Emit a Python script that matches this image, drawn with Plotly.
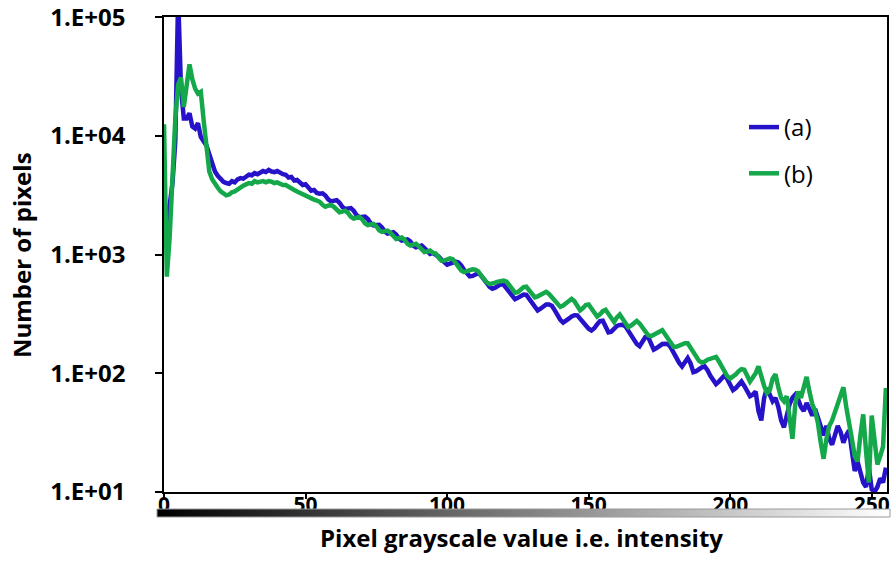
import plotly.graph_objects as go

# ---- data ----
intensity = list(range(256))

counts_a = [
    1700, 1900, 2600, 4000, 9000, 150000, 25000, 14000, 14000, 15500, 12000, 11500, 12800, 9800, 9000, 8300,
    7000, 5800, 5000, 4600, 4300, 4100, 4000, 3950, 4150, 4050, 4300, 4400, 4350, 4550, 4700, 4650,
    4850, 4750, 4950, 5050, 4950, 5150, 5000, 4950, 5050, 4850, 4750, 4700, 4450, 4500, 4200, 4250,
    4000, 3850, 3900, 3600, 3450, 3500, 3300, 3250, 3280, 3140, 2910, 2800, 2850, 2870, 2730, 2520,
    2420, 2440, 2460, 2340, 2150, 2060, 2080, 2090, 1990, 1830, 1760, 1770, 1780, 1690, 1560, 1500,
    1520, 1540, 1470, 1360, 1310, 1320, 1340, 1290, 1190, 1150, 1170, 1190, 1130, 1050, 1010, 1030,
    1000, 960, 905, 850, 820, 838, 864, 872, 855, 810, 742, 690, 655, 660, 680, 695,
    664, 625, 575, 533, 515, 525, 551, 563, 554, 515, 472, 437, 420, 431, 450, 460,
    457, 421, 384, 357, 337, 349, 367, 380, 380, 370, 340, 308, 281, 267, 275, 288,
    301, 308, 307, 289, 269, 250, 237, 229, 239, 258, 275, 277, 249, 221, 224, 240,
    250, 255, 256, 248, 227, 208, 190, 176, 169, 183, 201, 202, 179, 158, 163, 170,
    176, 177, 176, 165, 149, 133, 122, 114, 123, 134, 121, 102, 104, 109, 112, 114,
    106, 95, 86, 81, 85, 91, 96, 89, 79, 72, 75, 81, 85, 78, 69, 64,
    66, 70, 48, 40, 62, 75, 66, 58, 62, 52, 40, 35, 44, 55, 62, 66,
    60, 52, 48, 56, 50, 44, 50, 42, 34, 30, 36, 28, 25, 30, 36, 32,
    26, 30, 33, 22, 15, 18, 14, 12, 11, 16, 10.5, 10, 11, 13, 12, 16,
]

counts_b = [
    12500, 650, 1400, 5000, 14000, 27000, 31000, 17500, 28000, 40000, 30000, 25000, 22700, 23500, 13500, 7500,
    5000, 4300, 3900, 3650, 3400, 3250, 3150, 3200, 3350, 3400, 3550, 3650, 3800, 3900, 4000, 3950,
    4150, 4050, 4100, 4150, 4050, 4150, 4100, 4000, 4050, 3950, 3850, 3850, 3700, 3650, 3500, 3400,
    3300, 3200, 3150, 3050, 2950, 2900, 2850, 2780, 2620, 2530, 2580, 2620, 2520, 2350, 2270, 2300,
    2340, 2240, 2080, 2010, 2040, 2070, 1980, 1830, 1770, 1790, 1810, 1730, 1600, 1550, 1570, 1590,
    1520, 1410, 1350, 1370, 1390, 1330, 1230, 1190, 1210, 1230, 1170, 1090, 1050, 1060, 1080, 1030,
    1020, 941, 886, 889, 917, 928, 913, 848, 778, 734, 711, 723, 741, 750, 746, 721,
    668, 621, 582, 563, 568, 579, 591, 602, 602, 591, 548, 504, 477, 482, 507, 531,
    535, 505, 463, 436, 444, 459, 475, 485, 465, 434, 404, 379, 362, 371, 390, 409,
    423, 404, 364, 338, 354, 375, 379, 349, 316, 300, 313, 333, 342, 317, 284, 270,
    295, 312, 288, 261, 244, 252, 266, 275, 262, 240, 221, 209, 205, 211, 219, 227,
    230, 213, 194, 179, 167, 167, 172, 176, 179, 179, 163, 148, 135, 127, 123, 125,
    130, 133, 136, 137, 126, 113, 101, 94, 90, 93, 98, 104, 108, 107, 95, 85,
    92, 100, 114, 90, 78, 68, 72, 90, 98, 76, 62, 58, 64, 42, 28, 55,
    70, 62, 78, 93, 70, 55, 48, 38, 26, 19, 28, 36, 40, 46, 55, 65,
    76, 52, 40, 28, 20, 18, 30, 45, 22, 12, 44, 28, 17, 20, 24, 75,
]

series_names = ["(a)", "(b)"]
series_colors = ["#2612c8", "#14a84b"]

y_tickvals = [10, 100, 1000, 10000, 100000]
y_ticktext = ["1.E+01", "1.E+02", "1.E+03", "1.E+04", "1.E+05"]
x_tickvals = [0, 50, 100, 150, 200, 250]

gradient_levels = list(range(256))  # grayscale strip under the axis

FONT = "Open Sans"

fig = go.Figure()
for name, ys, col in zip(series_names, [counts_a, counts_b], series_colors):
    fig.add_trace(go.Scatter(
        x=intensity, y=ys, mode="lines", name=name, legendgroup=name,
        line=dict(color=col, width=4.5),
    ))

# grayscale strip
fig.add_trace(go.Heatmap(
    z=[gradient_levels], x=intensity, y=[0],
    colorscale=[[0, "#000000"], [1, "#ffffff"]], showscale=False,
    zsmooth="best", xaxis="x2", yaxis="y2", hoverinfo="skip",
))

W, H = 894, 579
ml, mr, mt, mb = 157, 4, 17, 62
pw, ph = W - ml - mr, H - mt - mb
x_dom = [(164 - ml) / pw, (887 - ml) / pw]
y_dom = [(H - mb - 492) / ph, 1]
bar_dom = [0, 8 / ph]

fig.update_layout(
    template="none",
    width=W, height=H,
    margin=dict(l=ml, r=mr, t=mt, b=mb, autoexpand=False),
    paper_bgcolor="white", plot_bgcolor="white",
    font=dict(family=FONT, color="#000000"),
    showlegend=True,
    legend=dict(
        x=(744 - ml) / pw, y=(H - mb - 105) / ph, xanchor="left", yanchor="top",
        font=dict(family=FONT, size=24, color="#000000"),
        tracegroupgap=12, bgcolor="rgba(0,0,0,0)",
    ),
    xaxis=dict(
        domain=x_dom, range=[0, 255.4], tickvals=x_tickvals, automargin=False,
        ticks="outside", ticklen=5, tickwidth=1.5, tickcolor="#000",
        showline=True, linecolor="#000", linewidth=1.5, mirror=True,
        showgrid=False, zeroline=False, ticklabelstandoff=-12,
        ticklabeloverflow="allow",
        tickfont=dict(family=FONT, size=21, color="#000", weight="bold"),
    ),
    yaxis=dict(
        domain=y_dom, type="log", range=[0.999, 5.001], automargin=False,
        tickvals=y_tickvals, ticktext=y_ticktext,
        ticks="outside", ticklen=7, tickwidth=1.5, tickcolor="#000",
        showline=True, linecolor="#000", linewidth=1.5, mirror=True,
        showgrid=False, zeroline=False, ticklabelstandoff=25,
        ticklabeloverflow="allow",
        tickfont=dict(family=FONT, size=24, color="#000", weight="bold"),
    ),
    xaxis2=dict(domain=[0, 1], range=[-0.5, 255.5], visible=False, anchor="y2"),
    yaxis2=dict(domain=bar_dom, range=[-0.5, 0.5], visible=False, anchor="x2"),
)

fig.add_shape(type="rect", xref="x2 domain", yref="y2 domain", x0=0, x1=1, y0=0, y1=1,
              line=dict(color="#9a9a9a", width=1))

fig.add_annotation(
    text="Pixel grayscale value i.e. intensity", xref="paper", yref="paper",
    x=(521 - ml) / pw, y=(H - mb - 537) / ph, xanchor="center", yanchor="middle",
    showarrow=False, font=dict(family=FONT, size=24, color="#000", weight="bold"),
)
fig.add_annotation(
    text="Number of pixels", xref="paper", yref="paper", textangle=-90,
    x=(21 - ml) / pw, y=(H - mb - 255) / ph, xanchor="center", yanchor="middle",
    showarrow=False, font=dict(family=FONT, size=24, color="#000", weight="bold"),
)

fig.write_html(
    "out.html",
    config={"displayModeBar": False},
    post_script="document.body.style.margin='0';document.body.style.overflow='hidden';",
)
